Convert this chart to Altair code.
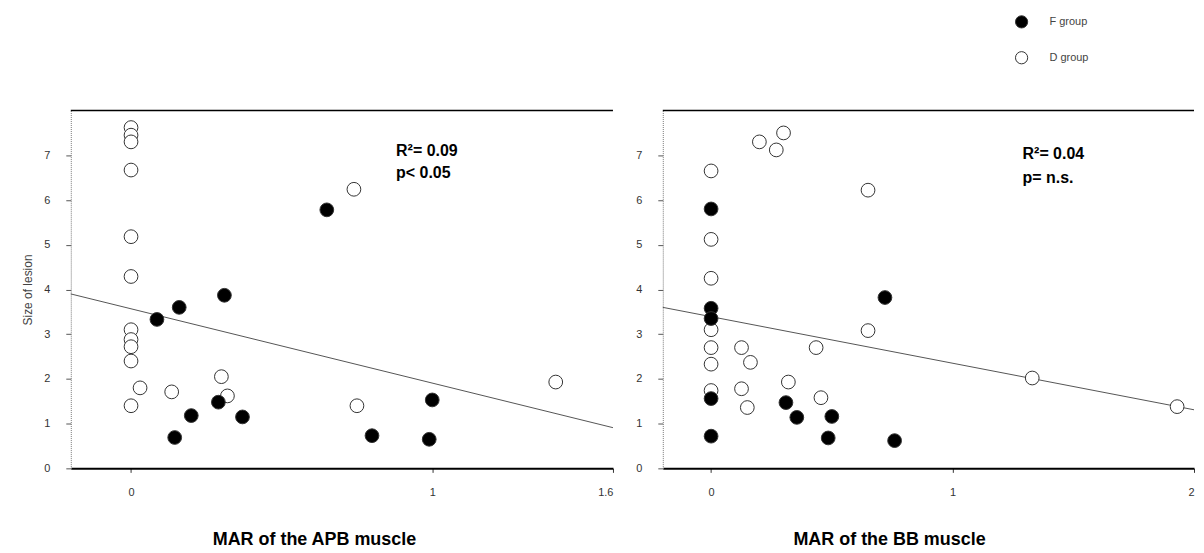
import altair as alt
import pandas as pd

# ---- data ----
apb_f_x = [0.086, 0.16, 0.31, 0.65, 0.145, 0.20, 0.29, 0.37, 0.80, 0.99, 1.00]
apb_f_y = [3.33, 3.60, 3.87, 5.78, 0.69, 1.18, 1.48, 1.15, 0.73, 0.65, 1.53]
apb_d_x = [0, 0, 0, 0, 0, 0, 0, 0, 0, 0, 0, 0.03, 0.135, 0.30, 0.32, 0.74, 0.75, 1.41]
apb_d_y = [7.62, 7.45, 7.30, 6.67, 5.18, 4.29, 3.10, 2.88, 2.72, 2.40, 1.40, 1.80, 1.71, 2.05, 1.62, 6.24, 1.40, 1.93]

bb_f_x = [0, 0, 0, 0, 0, 0.31, 0.355, 0.50, 0.485, 0.76, 0.72]
bb_f_y = [5.80, 3.58, 3.35, 1.56, 0.72, 1.47, 1.14, 1.16, 0.68, 0.62, 3.82]
bb_d_x = [0, 0, 0, 0, 0, 0, 0, 0.126, 0.163, 0.126, 0.15, 0.32, 0.435, 0.455, 0.20, 0.27, 0.30, 0.65, 0.65, 1.33, 1.93]
bb_d_y = [6.65, 5.12, 4.25, 3.10, 2.70, 2.33, 1.74, 2.70, 2.37, 1.78, 1.36, 1.93, 2.70, 1.58, 7.30, 7.12, 7.50, 6.22, 3.08, 2.02, 1.38]

groups = ["F group", "D group"]

apb_fit_x = [-0.2, 1.6]
apb_fit_y = [3.90, 0.91]
bb_fit_x = [-0.2, 2.0]
bb_fit_y = [3.60, 1.31]

apb_ticks = [0, 1, 1.6]
bb_ticks = [0, 1, 2]
y_ticks = [0, 1, 2, 3, 4, 5, 6, 7]

apb_stats = ["R²= 0.09", "p< 0.05"]
bb_stats = ["R²= 0.04", "p= n.s."]
apb_stat_pos = (0.88, [7.1, 6.6])
bb_stat_pos = (1.29, [7.02, 6.5])


def pts(fx, fy, dx, dy):
    return pd.DataFrame({
        "x": fx + dx,
        "y": fy + dy,
        "group": [groups[0]] * len(fx) + [groups[1]] * len(dx),
    })


def panel(df, fit_x, fit_y, stats, stat_pos, xdom, xticks, xtitle, title_x, width, show_y_title):
    xs = alt.Scale(domain=xdom, nice=False, zero=False)
    ys = alt.Scale(domain=[0, 8], nice=False)
    xaxis = alt.Axis(values=xticks, format="~g", title=xtitle, grid=False, labelFontSize=11,
                     labelColor="#333", labelPadding=14, tickSize=4, tickColor="#333",
                     domainColor="#000", domainWidth=2,
                     titleFontSize=18, titleFontWeight="bold", titleFont="Liberation Sans",
                     titleX=title_x, titleY=71, titleBaseline="middle", titleAnchor="start",
                     titleAlign="center")
    yaxis = alt.Axis(values=y_ticks, format="~g", title="Size of lesion" if show_y_title else None,
                     grid=False, labelFontSize=11, labelColor="#333", labelPadding=16,
                     tickSize=5, tickColor="#555", domainColor="#777", domainDash=[1, 1],
                     titleFontSize=12, titleFontWeight="normal", titleColor="#444",
                     titlePadding=9)
    base_pts = alt.Chart(df).mark_circle(size=190, opacity=1, stroke="#333", strokeWidth=1).encode(
        x=alt.X("x:Q", scale=xs, axis=xaxis),
        y=alt.Y("y:Q", scale=ys, axis=yaxis),
        fill=alt.Fill("group:N", scale=alt.Scale(domain=groups, range=["#000000", "#ffffff"]),
                      legend=alt.Legend(title=None, orient="none", legendX=947, legendY=-96,
                                        symbolSize=150, symbolStrokeColor="#333",
                                        symbolStrokeWidth=1, labelFontSize=11,
                                        labelColor="#444", rowPadding=18, labelOffset=21)),
        order=alt.Order("group:N", sort="ascending"),
    )
    fit = alt.Chart(pd.DataFrame({"x": fit_x, "y": fit_y})).mark_line(
        color="#555", strokeWidth=1).encode(x=alt.X("x:Q", scale=xs), y=alt.Y("y:Q", scale=ys))
    txt = alt.Chart(pd.DataFrame({"t": stats, "x": [stat_pos[0]] * 2, "y": stat_pos[1]})).mark_text(
        align="left", baseline="middle", fontSize=16, fontWeight="bold", font="Liberation Sans",
        color="#000").encode(x=alt.X("x:Q", scale=xs), y=alt.Y("y:Q", scale=ys), text="t:N")
    top = alt.Chart(pd.DataFrame({"y": [8]})).mark_rule(color="#000", strokeWidth=1.5).encode(
        y=alt.Y("y:Q", scale=ys), x=alt.value(0), x2=alt.value(width))
    return alt.layer(fit, base_pts, txt, top).properties(width=width, height=359)


left = panel(pts(apb_f_x, apb_f_y, apb_d_x, apb_d_y), apb_fit_x, apb_fit_y, apb_stats,
             apb_stat_pos, [-0.2, 1.6], apb_ticks, "MAR of the APB muscle", 244, 544, True)
right = panel(pts(bb_f_x, bb_f_y, bb_d_x, bb_d_y), bb_fit_x, bb_fit_y, bb_stats,
              bb_stat_pos, [-0.2, 2.0], bb_ticks, "MAR of the BB muscle", 227, 533, False)

chart = alt.hconcat(left, right, spacing=50, bounds="flush").properties(
    padding={"top": 6, "left": 13, "right": 0, "bottom": 0}
).configure_view(stroke=None).configure_axis(labelFont="Liberation Sans", titleFont="Liberation Sans"
).configure_legend(labelFont="Liberation Sans")

chart.save("out.html", embed_options={"renderer": "svg", "actions": False})
